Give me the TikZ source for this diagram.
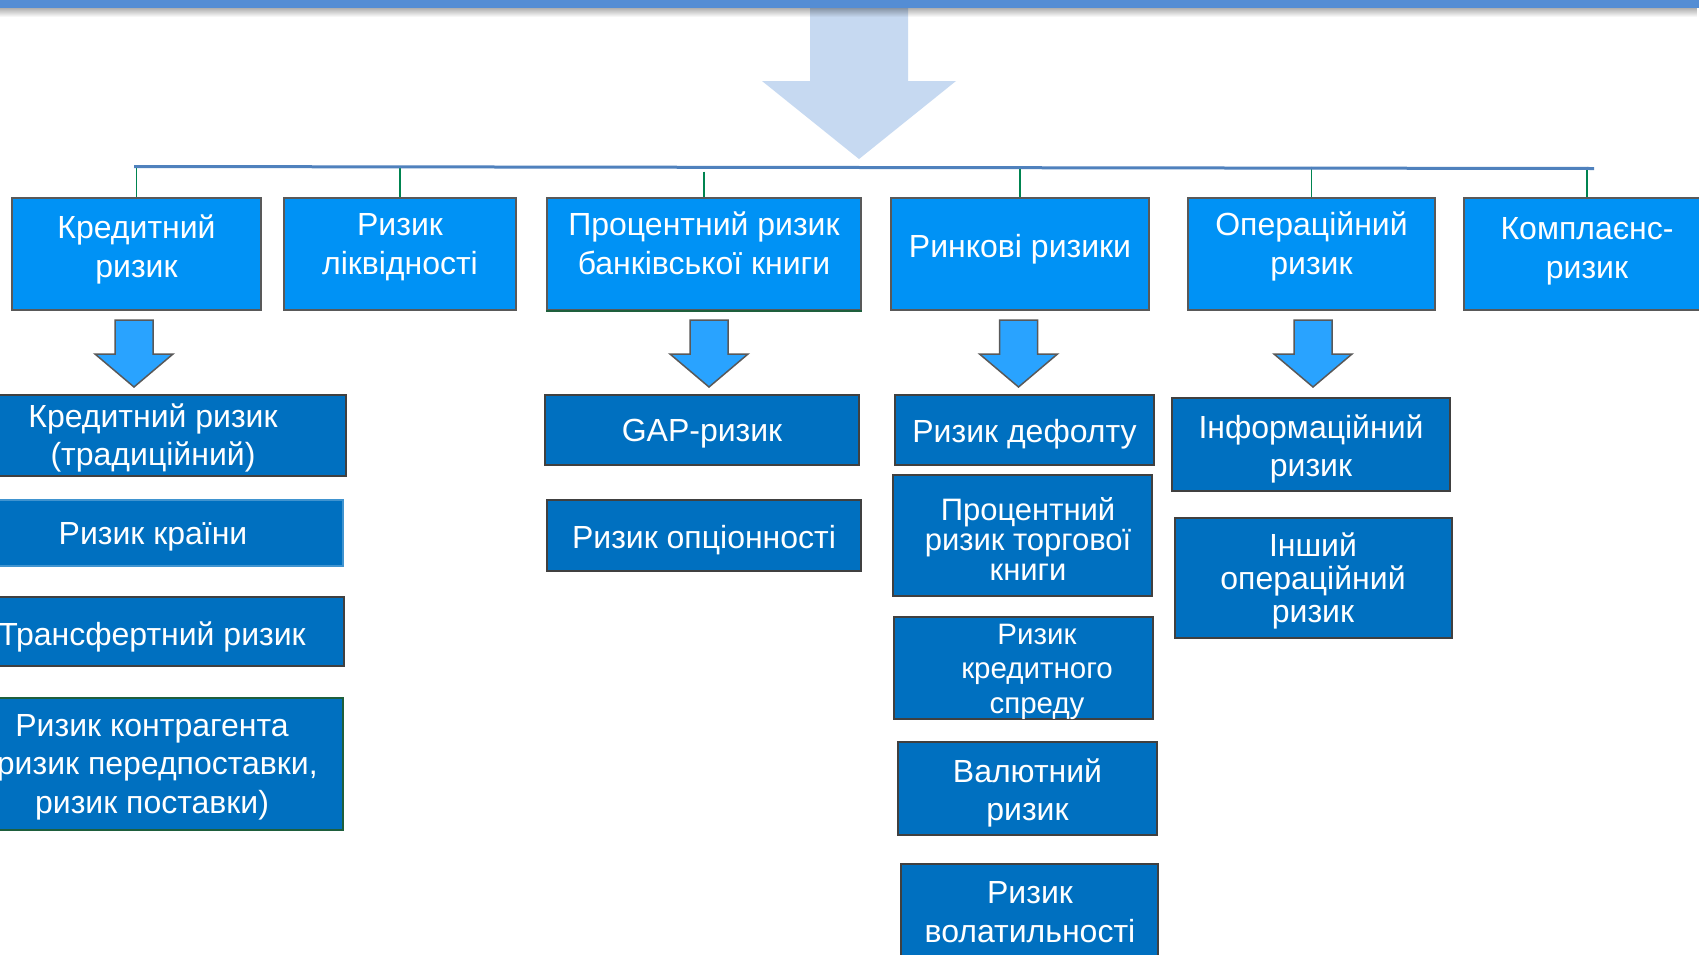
\documentclass[tikz,border=0pt]{standalone}
\usepackage{fontspec}
\setmainfont{Liberation Sans}
\usetikzlibrary{fadings,calc}
\definecolor{barblue}{RGB}{84,141,212}
\definecolor{bigarrow}{RGB}{198,217,241}
\definecolor{topblue}{RGB}{0,146,245}
\definecolor{subblue}{RGB}{0,112,192}
\definecolor{arrowblue}{RGB}{41,163,255}
\definecolor{edgegrey}{RGB}{89,89,89}
\definecolor{subgrey}{RGB}{64,64,64}
\definecolor{lineblue}{RGB}{79,129,189}
\definecolor{conngreen}{RGB}{0,132,80}
\definecolor{darkgreen}{RGB}{30,95,60}
\tikzfading[name=shadowfade, top color=transparent!0, bottom color=transparent!100]
\tikzset{
  topbox/.style={draw=edgegrey, line width=2pt, fill=topblue, inner sep=0pt},
  subbox/.style={draw=subgrey, line width=2pt, fill=subblue, inner sep=0pt},
  txt/.style={text=white, align=center, inner sep=0pt, font=\fontsize{32}{39}\selectfont},
  subtxt/.style={text=white, align=center, inner sep=0pt, font=\fontsize{32}{38.5}\selectfont},
  conn/.style={draw=conngreen, line width=1.5pt},
  blockarrow/.style={fill=arrowblue, draw=edgegrey, line width=1.5pt, line join=miter},
  downarr/.pic={\path[blockarrow] (-19,0) -- (19,0) -- (19,34) -- (39,34) -- (0,67) -- (-39,34) -- (-19,34) -- cycle;}
}
\begin{document}
\begin{tikzpicture}[x=1pt,y=-1pt]
\useasboundingbox (0,0) rectangle (1699,954);
\clip (0,0) rectangle (1699,954);
\fill[white] (0,0) rectangle (1699,954);

% big arrow
\fill[bigarrow] (810,0) -- (908,0) -- (908,81) -- (956,81) -- (859,159) -- (762,81) -- (810,81) -- cycle;
% top bar with shadow
\fill[black, opacity=0.35, path fading=shadowfade] (0,7) rectangle (1699,17);
\fill[barblue] (0,0) rectangle (1699,8);

% top level boxes
\node[topbox, minimum width=249pt, minimum height=112pt] (k1) at (136.5,254) {};
\node[topbox, minimum width=232pt, minimum height=112pt] (k2) at (400,254) {};
\node[topbox, minimum width=314pt, minimum height=112pt] (k3) at (704,254) {};
\node[topbox, minimum width=258pt, minimum height=112pt] (k4) at (1020,254) {};
\node[topbox, minimum width=247pt, minimum height=112pt] (k5) at (1311.5,254) {};
\node[topbox, minimum width=246pt, minimum height=112pt] (k6) at (1587,254) {};
\draw[darkgreen, line width=2.5pt] (k3.south west) -- (k3.south east);

\node[txt] (tk1) at (136.5,249.5) {Кредитний\\ризик};
\node[txt] (tk2) at (400,247.5) {Ризик\\ліквідності};
\node[txt] (tk3) at (704,243) {Процентний ризик\\банківської книги};
\node[txt] (tk4) at (1020,249) {Ринкові ризики};
\node[txt] (tk5) at (1311.5,246.5) {Операційний\\ризик};
\node[txt] (tk6) at (1587,251) {Комплаєнс-\\ризик};

% connectors
\coordinate (hl) at (134,166.5);
\coordinate (hr) at (1594,168.5);
\foreach \k in {k1,k2,k4,k5,k6} \draw[conn] (\k.north |- hl) -- (\k.north);
\draw[conn] ([yshift=-5pt]k3.north |- hl) -- (k3.north);
\draw[lineblue, line width=3pt] (hl) -- (hr);

% block arrows
\pic at ([shift={(-2.5,9)}]k1.south) {downarr};
\pic at ([shift={(5,9)}]k3.south) {downarr};
\pic at ([shift={(-1.5,9)}]k4.south) {downarr};
\pic at ([shift={(1.5,9)}]k5.south) {downarr};

% column 1
\node[subbox, minimum width=386pt, minimum height=81pt] (s1) at (153,435.5) {};
\node[subbox, draw=subblue!75!white, minimum width=383pt, minimum height=66pt] (s2) at (151.5,533) {};
\node[subbox, minimum width=384pt, minimum height=69pt] (s3) at (152,631.5) {};
\node[subbox, draw=darkgreen, minimum width=383pt, minimum height=132pt] (s4) at (151.5,764) {};
\node[subtxt] (ts1) at (153,438) {Кредитний ризик\\(традиційний)};
\node[subtxt] (ts2) at (153,537) {Ризик країни};
\node[subtxt] (ts3) at (152,636.5) {Трансфертний ризик};
\node[subtxt, font=\fontsize{32}{38.3}\selectfont] (ts4) at (152,767) {Ризик контрагента\\(ризик передпоставки,\\ризик поставки)};

% column 3
\node[subbox, minimum width=314pt, minimum height=70pt] (g1) at (702,430) {};
\node[subbox, minimum width=314pt, minimum height=71pt] (g2) at (704,535.5) {};
\node[subtxt] (tg1) at (702,434) {GAP-ризик};
\node[subtxt] (tg2) at (704,540.5) {Ризик опціонності};

% column 4
\node[subbox, minimum width=259pt, minimum height=70pt] (m1) at (1024.5,430) {};
\node[subbox, minimum width=259pt, minimum height=121pt] (m2) at (1022.5,535.5) {};
\node[subbox, minimum width=259pt, minimum height=102pt] (m3) at (1023.5,668) {};
\node[subbox, minimum width=259pt, minimum height=93pt] (m4) at (1027.5,788.5) {};
\node[subbox, minimum width=257pt, minimum height=106pt] (m5) at (1029.5,917) {};
\node[subtxt] (tm1) at (1024.5,434.5) {Ризик дефолту};
\node[subtxt, font=\fontsize{31}{30}\selectfont] (tm2) at (1028,539) {Процентний\\ризик торгової\\книги};
\node[subtxt, font=\fontsize{29.5}{34.5}\selectfont] (tm3) at (1037,671.5) {Ризик\\кредитного\\спреду};
\node[subtxt] (tm4) at (1027.5,793) {Валютний\\ризик};
\node[subtxt] (tm5) at (1030,912) {Ризик\\волатильності};

% column 5
\node[subbox, minimum width=278pt, minimum height=93pt] (o1) at (1311,444.5) {};
\node[subbox, minimum width=277pt, minimum height=120pt] (o2) at (1313.5,578) {};
\node[subtxt] (to1) at (1311,449) {Інформаційний\\ризик};
\node[subtxt, font=\fontsize{32}{33}\selectfont] (to2) at (1313,581) {Інший\\операційний\\ризик};
\end{tikzpicture}
\end{document}
